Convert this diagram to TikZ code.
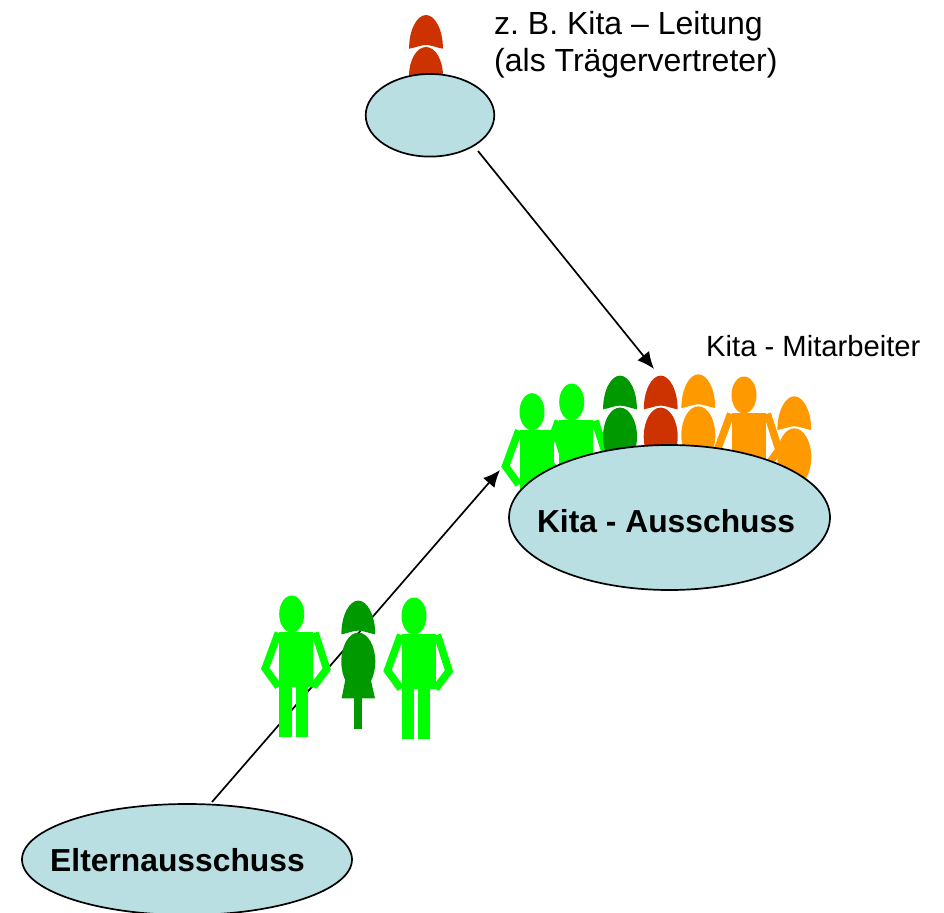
\documentclass[tikz,border=0pt]{standalone}
\usepackage{fontspec}
\setmainfont{Liberation Sans}
\usetikzlibrary{shapes.geometric,arrows.meta}
\definecolor{lightgreenfig}{HTML}{00FF00}
\definecolor{darkgreenfig}{HTML}{009900}
\definecolor{redfig}{HTML}{CC3300}
\definecolor{orangefig}{HTML}{FF9900}
\definecolor{bluefill}{HTML}{B9DFE3}
\newcommand{\blobtext}[3]{\smash{\raisebox{#2}{\makebox[0pt]{\hspace*{#1}#3}}}}
\tikzset{
  blob/.style={shape=ellipse,draw=black,line width=1.7pt,fill=bluefill,inner sep=0pt,font=\bfseries\fontsize{31.8}{36}\selectfont},
  label/.style={anchor=north west,inner sep=0pt,align=left,font=\frenchspacing\fontsize{32}{37.5}\selectfont},
  conn/.style={line width=1.7pt,-{Latex[length=17pt,width=15pt]}},
}
\newcommand{\manfig}[3]{%
  \begin{scope}[shift={(#1,#2)}]
    \fill[#3] (0,0) ellipse [x radius=12.5,y radius=18.5];
    \fill[#3] (-12.3,18) rectangle (21.7,73);
    \fill[#3] (-12.3,73) rectangle (0,123);
    \fill[#3] (4,73) rectangle (16.3,123);
    \draw[#3,line width=7.5pt,miter limit=10] (-13.3,18.7) -- (-26.5,54.5) -- (-13.3,72.7);
    \draw[#3,line width=7.5pt,miter limit=10] (23.3,18.7) -- (35,55) -- (21.7,72.7);
  \end{scope}}
\newcommand{\womanfig}[3]{%
  \begin{scope}[shift={(#1,#2)}]
    \fill[#3] (-16.9,1) .. controls (-17,-18) and (-9,-32.7) .. (0,-32.7)
      .. controls (9,-32.7) and (17,-18) .. (16.9,1)
      .. controls (9,-0.5) and (5,-2.7) .. (0,-2.7)
      .. controls (-5,-2.7) and (-9,-0.5) .. (-16.9,1) -- cycle;
    \fill[#3] (0,28.3) ellipse [x radius=17,y radius=29];
  \end{scope}}
\newcommand{\skirtfig}[3]{%
  \begin{scope}[shift={(#1,#2)}]
    \fill[#3] (-11.7,40) -- (-16.7,65) -- (16.7,65) -- (11,40) -- cycle;
    \fill[#3] (-4,65) rectangle (4,96);
  \end{scope}}
\begin{document}
\begin{tikzpicture}[x=1pt,y=-1pt]
\useasboundingbox (0,0) rectangle (944,912);
% connector end points
\coordinate (leitungout) at (478,151);
\coordinate (kitatop) at (654,369);
\coordinate (elternout) at (212,802);
\coordinate (kitaleft) at (500,470);
\draw[conn] (leitungout) -- (kitatop);
\draw[conn] (elternout) -- (kitaleft);
% persons above the parents' committee
\manfig{291.7}{614}{lightgreenfig}
\skirtfig{358.3}{633.3}{darkgreenfig}
\womanfig{358.3}{633.3}{darkgreenfig}
\manfig{414}{616}{lightgreenfig}
% persons at the Kita committee
\manfig{532}{411.7}{lightgreenfig}
\manfig{571.7}{402}{lightgreenfig}
\womanfig{620}{408.3}{darkgreenfig}
\womanfig{660.7}{408.3}{redfig}
\womanfig{698.3}{407}{orangefig}
\manfig{744}{395}{orangefig}
\womanfig{794.3}{429}{orangefig}
% top person
\womanfig{426}{47.7}{redfig}
% committees
\node[blob,minimum width=128.6pt,minimum height=82.6pt] (leitung) at (430,115.3) {};
\node[blob,minimum width=321pt,minimum height=145pt] (kita) at (669.5,517.5) {\blobtext{-7pt}{-15pt}{Kita - Ausschuss}};
\node[blob,minimum width=330pt,minimum height=111pt] (eltern) at (187,859.5) {\blobtext{-19pt}{-12pt}{Elternausschuss}};
% labels
\node[label] (leitungtext) at (494,11) {z. B. Kita – Leitung\\(als Trägervertreter)};
\node[label,font=\fontsize{29.2}{34}\selectfont] (mitarbeitertext) at (706,335) {Kita - Mitarbeiter};
\end{tikzpicture}
\end{document}
